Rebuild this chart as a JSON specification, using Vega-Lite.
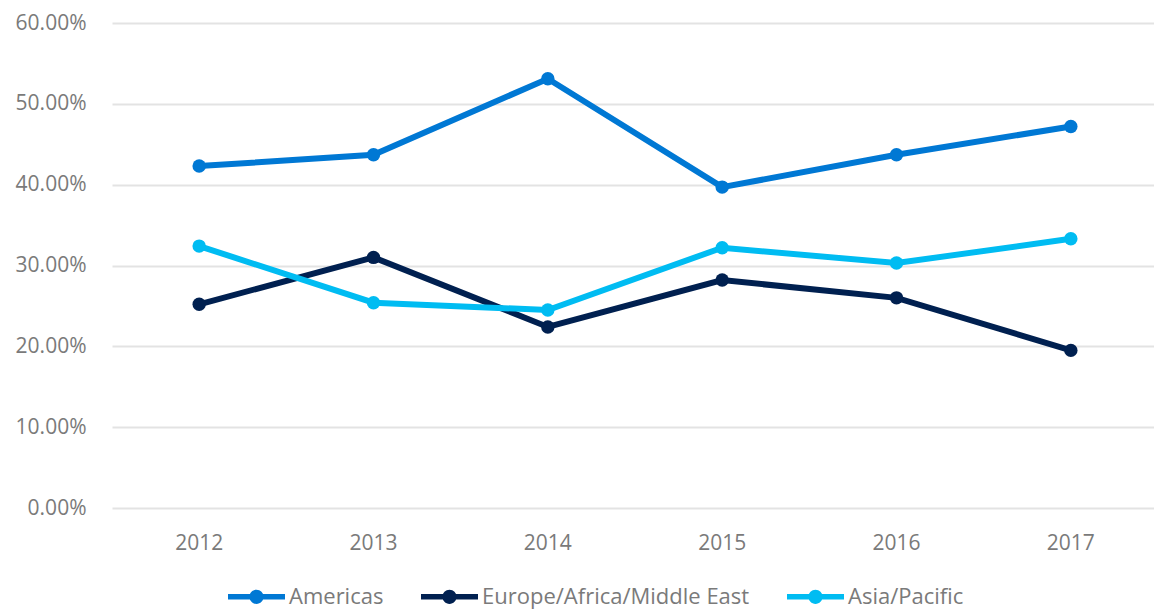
{
  "$schema": "https://vega.github.io/schema/vega-lite/v6.json",
  "width": 1046,
  "height": 485,
  "autosize": {"type": "none"},
  "padding": {"left": 112, "top": 23, "right": 0, "bottom": 102},
  "background": "white",
  "config": {
    "view": {"stroke": null},
    "font": "Open Sans",
    "axis": {"labelFont": "Open Sans", "labelFontSize": 21, "labelColor": "#7a7a7a", "domain": false, "ticks": false, "title": null},
    "legend": {"labelFont": "Open Sans", "labelFontSize": 22, "labelColor": "#7a7a7a", "labelLimit": 400}
  },
  "data": {
    "values": [
      {"year": "2012", "region": "Americas", "share": 0.423},
      {"year": "2013", "region": "Americas", "share": 0.437},
      {"year": "2014", "region": "Americas", "share": 0.531},
      {"year": "2015", "region": "Americas", "share": 0.397},
      {"year": "2016", "region": "Americas", "share": 0.437},
      {"year": "2017", "region": "Americas", "share": 0.472},
      {"year": "2012", "region": "Europe/Africa/Middle East", "share": 0.252},
      {"year": "2013", "region": "Europe/Africa/Middle East", "share": 0.310},
      {"year": "2014", "region": "Europe/Africa/Middle East", "share": 0.224},
      {"year": "2015", "region": "Europe/Africa/Middle East", "share": 0.282},
      {"year": "2016", "region": "Europe/Africa/Middle East", "share": 0.260},
      {"year": "2017", "region": "Europe/Africa/Middle East", "share": 0.195},
      {"year": "2012", "region": "Asia/Pacific", "share": 0.324},
      {"year": "2013", "region": "Asia/Pacific", "share": 0.254},
      {"year": "2014", "region": "Asia/Pacific", "share": 0.245},
      {"year": "2015", "region": "Asia/Pacific", "share": 0.322},
      {"year": "2016", "region": "Asia/Pacific", "share": 0.303},
      {"year": "2017", "region": "Asia/Pacific", "share": 0.333}
    ]
  },
  "encoding": {
    "x": {
      "field": "year", "type": "ordinal",
      "scale": {"type": "band", "paddingInner": 0, "paddingOuter": 0},
      "axis": {"labelAngle": 0, "labelPadding": 24, "grid": false}
    },
    "y": {
      "field": "share", "type": "quantitative",
      "scale": {"domain": [0, 0.6], "nice": false},
      "axis": {"values": [0, 0.1, 0.2, 0.3, 0.4, 0.5, 0.6], "format": ".2%", "labelPadding": 26, "grid": true, "gridColor": "#e3e3e3", "gridWidth": 2}
    },
    "color": {
      "field": "region", "type": "nominal",
      "scale": {"domain": ["Americas", "Europe/Africa/Middle East", "Asia/Pacific"], "range": ["#0078d4", "#002050", "#00bcf2"]},
      "legend": {
        "title": null,
        "orient": "none",
        "legendX": 116,
        "legendY": 545,
        "direction": "horizontal",
        "symbolType": "M-1,-0.1L1,-0.1L1,0.1L-1,0.1Z M-0.25,0A0.25,0.25 0 1,1 0.25,0A0.25,0.25 0 1,1 -0.25,0Z",
        "symbolSize": 3249,
        "symbolStrokeWidth": 0,
        "labelOffset": 4,
        "columnPadding": 37,
        "encode": {"symbols": {"update": {"fill": {"scale": "color", "field": "value"}, "fillOpacity": {"value": 1}, "strokeWidth": {"value": 0}}}}
      }
    }
  },
  "layer": [
    {"mark": {"type": "line", "strokeWidth": 6}},
    {"mark": {"type": "point", "filled": true, "size": 180, "opacity": 1}}
  ]
}
